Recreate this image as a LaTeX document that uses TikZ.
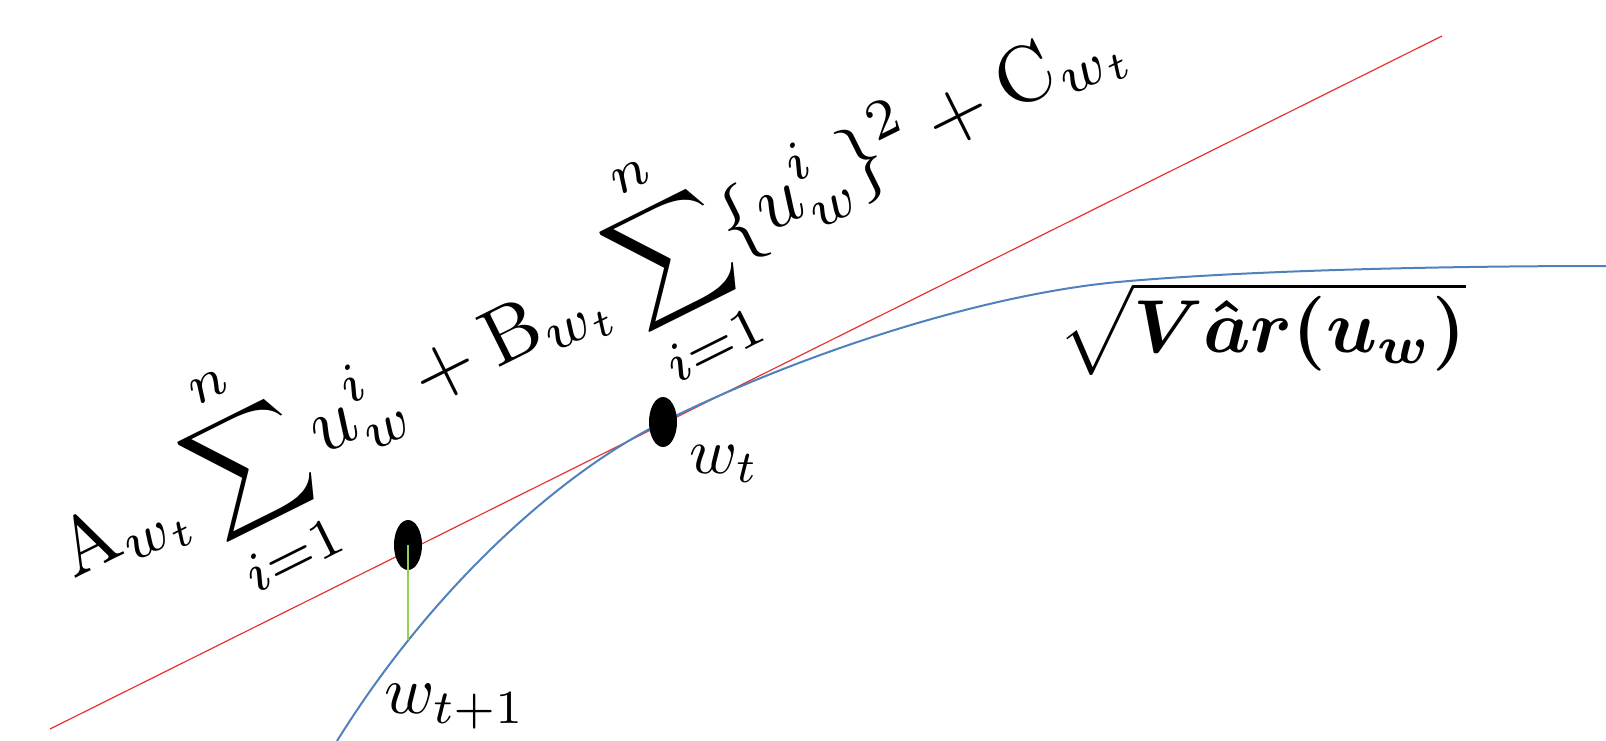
\documentclass[tikz,border=0pt]{standalone}
\usepackage{amsmath,bm,graphicx}
\usetikzlibrary{shapes.geometric}
\definecolor{redline}{RGB}{232,50,50}
\definecolor{blueline}{RGB}{79,129,189}
\definecolor{greenline}{RGB}{146,208,80}
\begin{document}
\begin{tikzpicture}[x=1pt,y=-1pt,
  blackdot/.style={ellipse,fill=black,draw=none,inner sep=0pt,minimum width=28pt,minimum height=50pt},
  txt/.style={inner sep=0pt},
  tangent/.style={draw=redline,line width=1.2pt},
  curve/.style={draw=blueline,line width=2pt},
  drop/.style={draw=greenline,line width=1.6pt}]
\useasboundingbox (0,0) rectangle (1606,741);
\coordinate (r0) at (50,729);
\coordinate (r1) at (1442,36);
\coordinate (c0) at (337,741);
\coordinate (wt) at (663,422);
\coordinate (c2) at (1118,282);
\coordinate (c3) at (1606,266);
\coordinate (wn) at (408,545);
\coordinate (gfoot) at (408,640);
% tangent line
\draw[tangent] (r0) -- (r1);
% function curve
\draw[curve] (c0) .. controls (432,588) and (560,473) .. (wt)
  .. controls (800,354) and (980,295) .. (c2)
  .. controls (1250,270) and (1450,266) .. (c3);
% points
\node[blackdot] (dotB) at (wn) {};
\node[blackdot] (dotA) at (wt) {};
\draw[drop] (dotB.center) -- (gfoot);
% labels
\node[txt] (lwt) at (724,464) {\scalebox{6.5}{$w_t$}};
\node[txt] (lwn) at (455,707) {\scalebox{6.8}{$w_{t+1}$}};
\node[txt,anchor=north] (lsq) at (1262,282) {\scalebox{7.5}{$\sqrt{\boldsymbol{V\hat{a}r(u_w)}}$}};
\node[txt,anchor=base west,rotate=26.5] (f) at (73,580)
  {\scalebox{8}{$\displaystyle \mathrm{A}_{w_t}\sum_{i=1}^{n} u_w^{i} + \mathrm{B}_{w_t}\sum_{i=1}^{n}\{u_w^{i}\}^2 + \mathrm{C}_{w_t}$}};
\end{tikzpicture}
\end{document}
